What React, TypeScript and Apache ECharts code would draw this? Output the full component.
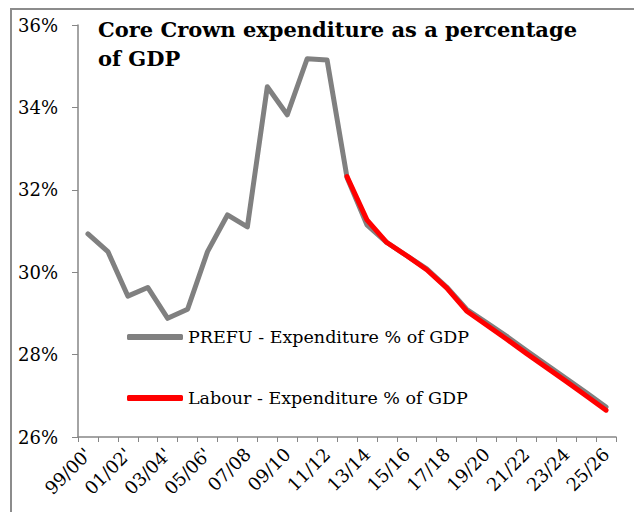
import React, { useEffect, useRef } from "react";
import * as echarts from "echarts";

const categories = [
  "99/00'", "00/01'", "01/02'", "02/03'", "03/04'", "04/05'", "05/06'", "06/07",
  "07/08", "08/09", "09/10", "10/11", "11/12", "12/13", "13/14", "14/15",
  "15/16", "16/17", "17/18", "18/19", "19/20", "20/21", "21/22", "22/23",
  "23/24", "24/25", "25/26",
];

const prefuValues = [
  30.93, 30.5, 29.42, 29.63, 28.88, 29.1, 30.5, 31.39, 31.1, 34.5, 33.82, 35.18,
  35.15, 32.3, 31.15, 30.72, 30.4, 30.08, 29.64, 29.1, 28.78, 28.45, 28.1,
  27.76, 27.42, 27.08, 26.73,
];

const labourValues = [
  null, null, null, null, null, null, null, null, null, null, null, null, null,
  32.32, 31.27, 30.72, 30.4, 30.06, 29.62, 29.06, 28.72, 28.38, 28.03, 27.69,
  27.35, 27.0, 26.65,
];

const yTicks = [26, 28, 30, 32, 34, 36];

const titleText = "Core Crown expenditure as a percentage\nof GDP";
const seriesNames = ["PREFU - Expenditure % of GDP", "Labour - Expenditure % of GDP"];

const FONT = "DejaVu Serif";

export default function App() {
  const ref = useRef<HTMLDivElement>(null);
  useEffect(() => {
    if (!ref.current) return;
    const chart = echarts.init(ref.current, null, { renderer: "svg" });
    chart.setOption({
      animation: false,
      backgroundColor: "#ffffff",
      title: {
        text: titleText,
        left: 93,
        top: 10,
        textStyle: {
          fontFamily: FONT,
          fontWeight: "bold",
          fontSize: 21,
          lineHeight: 29,
          color: "#000000",
        },
      },
      legend: {
        orient: "vertical",
        left: 122,
        top: 323,
        itemWidth: 56,
        itemHeight: 6,
        itemGap: 43,
        icon: "roundRect",
        textStyle: { fontFamily: FONT, fontSize: 17.5, color: "#000000" },
        data: seriesNames,
      },
      graphic: [
        {
          type: "rect",
          shape: { x: 11, y: 9, width: 700, height: 600 },
          style: { fill: "none", stroke: "#8c8c8c", lineWidth: 2 },
          silent: true,
        },
      ],
      grid: { left: 78, right: 18, top: 25, bottom: 75, containLabel: false },
      xAxis: {
        type: "category",
        data: categories,
        boundaryGap: true,
        axisLine: { lineStyle: { color: "#868686", width: 1.5 } },
        axisTick: { show: true, interval: 0, length: 5, lineStyle: { color: "#868686" } },
        axisLabel: {
          interval: 1,
          rotate: 45,
          margin: 14,
          fontFamily: FONT,
          fontSize: 18,
          color: "#000000",
        },
      },
      yAxis: {
        type: "value",
        min: 26,
        max: 36,
        interval: 2,
        axisLine: { show: true, lineStyle: { color: "#868686", width: 1.5 } },
        axisTick: { show: true, length: 6, lineStyle: { color: "#868686" } },
        splitLine: { show: false },
        axisLabel: {
          formatter: (v: number) => (yTicks.includes(v) ? `${v}%` : ""),
          margin: 20,
          fontFamily: FONT,
          fontSize: 18,
          color: "#000000",
        },
      },
      series: [
        {
          name: seriesNames[0],
          type: "line",
          data: prefuValues,
          symbol: "none",
          color: "#808080",
          lineStyle: { color: "#808080", width: 5, cap: "round", join: "round" },
        },
        {
          name: seriesNames[1],
          type: "line",
          data: labourValues,
          symbol: "none",
          color: "#ff0000",
          lineStyle: { color: "#ff0000", width: 5, cap: "round", join: "round" },
        },
      ],
    });
    return () => chart.dispose();
  }, []);
  return (
    <div
      ref={ref}
      style={{ position: "absolute", left: 0, top: 0, width: 634, height: 512 }}
    />
  );
}
